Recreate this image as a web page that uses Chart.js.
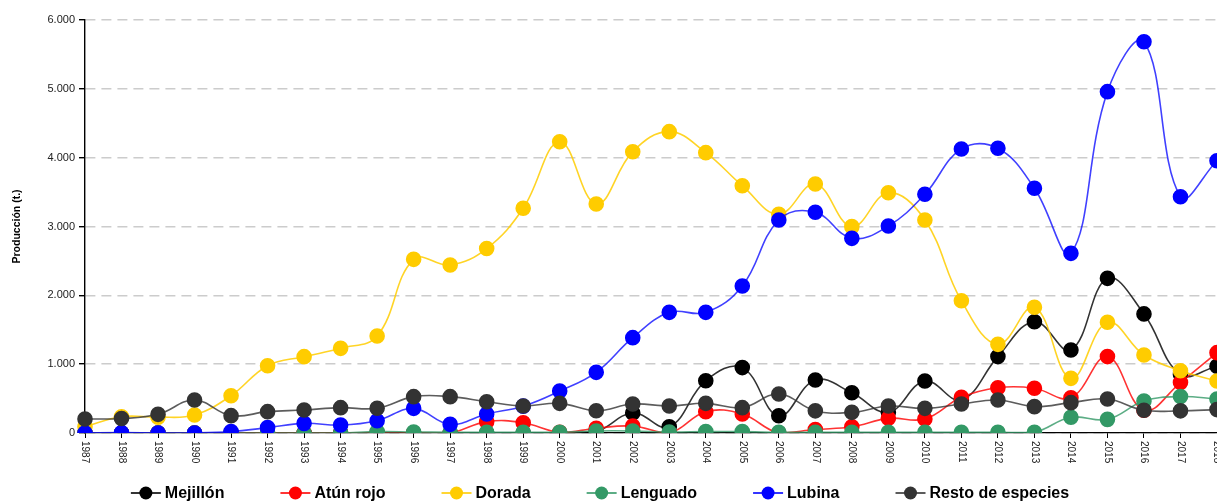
<!DOCTYPE html>
<html lang="es">
<head>
  <meta charset="UTF-8">
  <title>Producción acuicultura por especie</title>
  <script src="https://cdn.jsdelivr.net/npm/chart.js@4.4.0/dist/chart.umd.min.js"></script>
  <style>
    html, body { margin: 0; padding: 0; background: #fff; }
    #wrap { width: 1217px; height: 502px; }
  </style>
</head>
<body>
<div id="wrap"><canvas id="chart" width="1217" height="502"></canvas></div>
<script>
  // Años
  const years = ['1987','1988','1989','1990','1991','1992','1993','1994','1995','1996','1997','1998','1999','2000','2001','2002','2003','2004','2005','2006','2007','2008','2009','2010','2011','2012','2013','2014','2015','2016','2017','2018'];
  // Producción (t.) por especie
  const mejillon = [0,0,0,0,0,0,0,0,0,0,0,0,0,0,20,290,90,760,950,250,770,585,300,755,480,1110,1617,1205,2247,1730,850,970];
  const atunRojo = [0,0,0,0,0,0,0,0,0,0,0,165,150,10,70,100,0,310,275,0,50,90,213,203,518,658,650,513,1110,330,733,1167];
  const dorada   = [92,237,230,262,542,978,1109,1230,1409,2523,2440,2680,3265,4232,3327,4087,4378,4073,3593,3177,3618,2998,3491,3095,1922,1288,1826,794,1608,1133,905,755];
  const lenguado = [0,0,0,0,0,0,0,0,20,15,10,10,10,10,30,30,15,20,20,10,10,10,10,10,10,10,10,228,198,465,530,492];
  const lubina   = [0,5,0,0,20,78,140,116,179,358,126,276,390,610,881,1385,1753,1753,2136,3095,3206,2828,3007,3468,4126,4136,3555,2610,4959,5685,3433,3956];
  const resto    = [203,210,271,479,252,310,334,368,360,528,528,455,392,431,324,421,392,431,368,567,322,300,392,358,421,479,383,441,494,330,322,340];

  const FONT = '"Liberation Sans", Arial, sans-serif';
  const fmt = v => String(v).replace(/\B(?=(\d{3})+(?!\d))/g, '.');

  function serie(label, data, color, line, order) {
    return {
      label, data, order,
      borderColor: line, backgroundColor: color,
      pointBackgroundColor: color, pointBorderColor: color,
      borderWidth: 1.6, pointRadius: 7, pointHoverRadius: 7,
      tension: 0.4, fill: false
    };
  }

  // etiquetas del eje X giradas 90° (lectura de arriba hacia abajo)
  const xLabels = {
    id: 'xLabels',
    afterDraw(chart) {
      const sx = chart.scales.x, ctx = chart.ctx;
      ctx.save();
      ctx.font = '10px ' + FONT;
      ctx.fillStyle = '#222';
      ctx.textAlign = 'left';
      ctx.textBaseline = 'middle';
      years.forEach((y, i) => {
        ctx.save();
        ctx.translate(sx.getPixelForValue(i), sx.top + 8);
        ctx.rotate(Math.PI / 2);
        ctx.fillText(y, 0, 0);
        ctx.restore();
      });
      ctx.restore();
    }
  };

  // leyenda inferior: línea + punto, texto en negrita
  const legendLine = {
    id: 'legendLine',
    afterDraw(chart) {
      const ctx = chart.ctx, sets = chart.data.datasets;
      const iconW = 30, gapIcon = 4, gapItem = 56, y = 493;
      ctx.save();
      ctx.font = 'bold 16px ' + FONT;
      const widths = sets.map(ds => ctx.measureText(ds.label).width);
      const total = widths.reduce((a, w) => a + iconW + gapIcon + w, 0) + gapItem * (sets.length - 1);
      let x = 600 - total / 2;
      sets.forEach((ds, i) => {
        const c = ds.pointBackgroundColor;
        ctx.strokeStyle = c; ctx.lineWidth = 1.6;
        ctx.beginPath(); ctx.moveTo(x, y); ctx.lineTo(x + iconW, y); ctx.stroke();
        ctx.fillStyle = c;
        ctx.beginPath(); ctx.arc(x + iconW / 2, y, 6.5, 0, Math.PI * 2); ctx.fill();
        ctx.fillStyle = '#000';
        ctx.textAlign = 'left'; ctx.textBaseline = 'middle';
        ctx.fillText(ds.label, x + iconW + gapIcon, y + 1);
        x += iconW + gapIcon + widths[i] + gapItem;
      });
      ctx.restore();
    }
  };

  new Chart(document.getElementById('chart'), {
    type: 'line',
    data: {
      labels: years,
      datasets: [
        serie('Mejillón', mejillon, '#000000', 'rgba(0,0,0,0.8)', 5),
        serie('Atún rojo', atunRojo, '#ff0000', 'rgba(255,0,0,0.8)', 4),
        serie('Dorada', dorada, '#ffcc00', 'rgba(255,204,0,0.85)', 3),
        serie('Lenguado', lenguado, '#339966', 'rgba(51,153,102,0.8)', 2),
        serie('Lubina', lubina, '#0000ff', 'rgba(0,0,255,0.75)', 1),
        serie('Resto de especies', resto, '#333333', 'rgba(51,51,51,0.8)', 0)
      ]
    },
    options: {
      responsive: false,
      animation: false,
      layout: { autoPadding: false, padding: { top: 20, left: 11, right: 0, bottom: 29 } },
      plugins: {
        tooltip: { enabled: false },
        legend: { display: false }
      },
      scales: {
        x: {
          offset: false,
          grid: { drawOnChartArea: false, drawTicks: true, tickLength: 5, tickColor: '#000' },
          border: { color: '#000', width: 1.2 },
          ticks: { display: false },
          afterFit: s => { s.height = 40; }
        },
        y: {
          min: 0, max: 6000,
          ticks: {
            stepSize: 1000, padding: 4, color: '#222',
            font: { family: FONT, size: 11 },
            callback: v => fmt(v)
          },
          grid: { color: '#cccccc', lineWidth: 1.4, tickLength: 6, tickColor: '#000', tickBorderDash: [] },
          border: { color: '#000', width: 1.4, dash: [10, 6] },
          title: {
            display: true, text: 'Producción (t.)', color: '#000',
            font: { family: FONT, size: 10.5, weight: 'bold' },
            padding: { top: 0, bottom: 0 }
          },
          afterFit: s => { s.width = 74; }
        }
      }
    },
    plugins: [xLabels, legendLine]
  });
</script>
</body>
</html>
